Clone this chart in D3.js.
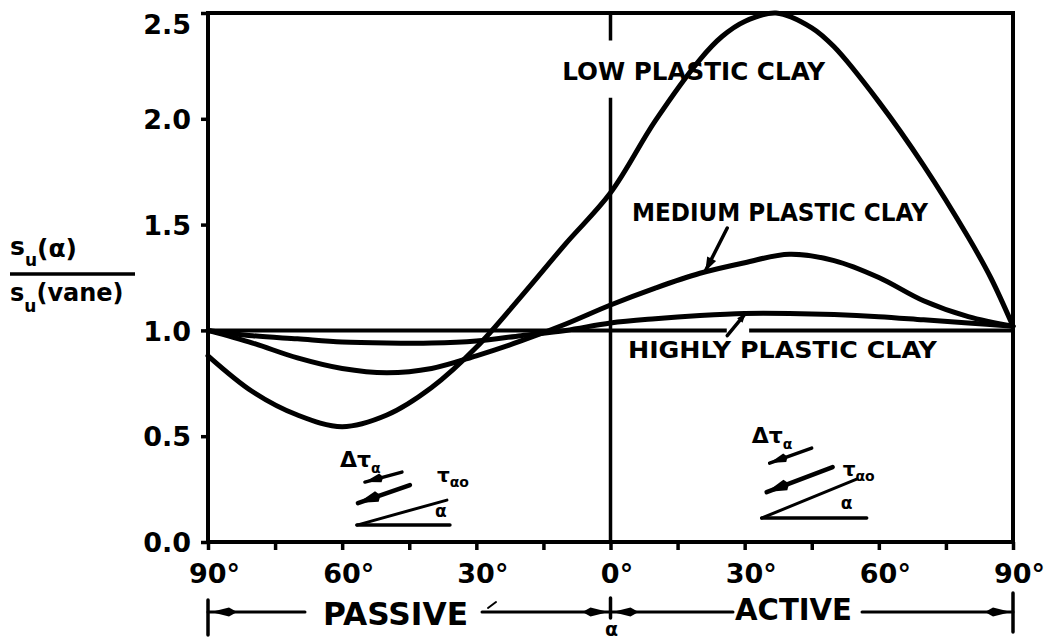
<!DOCTYPE html>
<html>
<head>
<meta charset="utf-8">
<script src="https://cdn.jsdelivr.net/npm/d3@7"></script>
<style>
  body { margin: 0; background: #fff; }
  svg { display: block; }
  text { font-family: "DejaVu Sans", sans-serif; font-weight: bold; fill: #000; }
</style>
</head>
<body>
<svg></svg>
<script>
const width = 1051,
  height = 642;

// alpha in degrees: negative = passive side, positive = active side
const lowAlpha = [-90, -80, -70, -60, -50, -40, -30, -20, -10, 0, 10, 20, 25, 30, 37, 45, 50, 60, 70, 80, 85, 90];
const lowRatio = [0.88, 0.71, 0.60, 0.545, 0.60, 0.73, 0.92, 1.16, 1.41, 1.65, 1.99, 2.28, 2.39, 2.46, 2.5, 2.43, 2.34, 2.08, 1.78, 1.44, 1.25, 1.02];

const mediumAlpha = [-90, -80, -70, -60, -50, -40, -30, -20, -10, 0, 10, 20, 30, 40, 50, 60, 70, 80, 90];
const mediumRatio = [1.0, 0.94, 0.87, 0.82, 0.80, 0.82, 0.88, 0.95, 1.03, 1.12, 1.2, 1.27, 1.32, 1.36, 1.33, 1.25, 1.14, 1.065, 1.02];

const highAlpha = [-90, -80, -70, -60, -50, -40, -30, -20, -10, 0, 10, 20, 30, 40, 50, 60, 70, 80, 90];
const highRatio = [1.0, 0.975, 0.96, 0.945, 0.94, 0.94, 0.95, 0.975, 1.0, 1.035, 1.055, 1.07, 1.08, 1.08, 1.075, 1.065, 1.05, 1.035, 1.02];

const yTicks = [0, 0.5, 1.0, 1.5, 2.0, 2.5];
const xTicks = d3.range(-90, 91, 15);

const curveLabels = ["LOW PLASTIC CLAY", "MEDIUM PLASTIC CLAY", "HIGHLY PLASTIC CLAY"];

const svg = d3.select("svg")
  .attr("width", width)
  .attr("height", height);

const x = d3.scaleLinear().domain([-90, 90]).range([208, 1013]);
const y = d3.scaleLinear().domain([0, 2.5]).range([542, 13]);

// axes
const yAxis = d3.axisLeft(y)
  .tickValues(yTicks)
  .tickFormat(d3.format(".1f"))
  .tickSize(7)
  .tickSizeOuter(0)
  .tickPadding(10);

const xAxis = d3.axisBottom(x)
  .tickValues(xTicks)
  .tickFormat(d => d % 30 === 0 ? Math.abs(d) + "°" : "")
  .tickSize(8)
  .tickSizeOuter(0)
  .tickPadding(14);

const gy = svg.append("g")
  .attr("transform", "translate(" + x(-90) + ",0)")
  .call(yAxis);
gy.select(".domain").remove();
gy.selectAll("line").attr("stroke", "#000").attr("stroke-width", 3.5);
gy.selectAll("text")
  .style("font-size", "27px")
  .attr("dy", d => d === 2.5 ? "0.75em" : "0.36em"); // top label sits below its tick

const gx = svg.append("g")
  .attr("transform", "translate(0," + y(0) + ")")
  .call(xAxis);
gx.select(".domain").remove();
gx.selectAll("line").attr("stroke", "#000").attr("stroke-width", 3.5);
gx.selectAll("text")
  .style("font-size", "27px")
  .attr("dx", "6px");

// frame
svg.append("rect")
  .attr("x", x(-90))
  .attr("y", y(2.5))
  .attr("width", x(90) - x(-90))
  .attr("height", y(0) - y(2.5))
  .attr("fill", "none")
  .attr("stroke", "#000")
  .attr("stroke-width", 4);

// reference line at ratio 1.0, broken where the HIGHLY label pointer passes
const refGap = [26, 31];
[[-90, refGap[0]], [refGap[1], 90]].forEach(s => {
  svg.append("line")
    .attr("x1", x(s[0])).attr("x2", x(s[1]))
    .attr("y1", y(1)).attr("y2", y(1))
    .attr("stroke", "#000").attr("stroke-width", 4);
});

// vertical line at alpha = 0, broken behind the LOW label
const zeroGap = [2.10, 2.37];
[[0, zeroGap[0]], [zeroGap[1], 2.5]].forEach(s => {
  svg.append("line")
    .attr("x1", x(0)).attr("x2", x(0))
    .attr("y1", y(s[0])).attr("y2", y(s[1]))
    .attr("stroke", "#000").attr("stroke-width", 3.5);
});

// curves
const line = d3.line()
  .x(d => x(d[0]))
  .y(d => y(d[1]))
  .curve(d3.curveCatmullRom.alpha(0.5));

[[lowAlpha, lowRatio], [mediumAlpha, mediumRatio], [highAlpha, highRatio]].forEach(s => {
  svg.append("path")
    .datum(s[0].map((a, i) => [a, s[1][i]]))
    .attr("d", line)
    .attr("fill", "none")
    .attr("stroke", "#000")
    .attr("stroke-width", 5)
    .attr("stroke-linejoin", "round")
    .attr("stroke-linecap", "round");
});

// filled arrow head, tip at `tip`, pointing away from `from`; tail > 0 gives a spindle shape
function head(g, tip, from, len, half, tail) {
  const dx = tip[0] - from[0], dy = tip[1] - from[1], L = Math.hypot(dx, dy);
  const ux = dx / L, uy = dy / L;
  const bx = tip[0] - ux * len, by = tip[1] - uy * len;
  const tx = bx - ux * tail, ty = by - uy * tail;
  g.append("path")
    .attr("d", "M" + tip + "L" + (bx - uy * half) + "," + (by + ux * half) +
      "L" + tx + "," + ty + "L" + (bx + uy * half) + "," + (by - ux * half) + "Z")
    .attr("fill", "#000");
}

function seg(g, a, b, w) {
  g.append("line")
    .attr("x1", a[0]).attr("y1", a[1])
    .attr("x2", b[0]).attr("y2", b[1])
    .attr("stroke", "#000")
    .attr("stroke-width", w)
    .attr("stroke-linecap", "round");
}

// curve labels
const labelPos = [[-10.8, 2.185, 263, 24], [4.8, 1.515, 296, 24], [3.9, 0.87, 309, 23]];
curveLabels.forEach((t, i) => {
  const p = labelPos[i];
  svg.append("text")
    .attr("x", x(p[0]))
    .attr("y", y(p[1]))
    .attr("textLength", p[2])
    .attr("lengthAdjust", "spacingAndGlyphs")
    .style("font-size", p[3] + "px")
    .text(t);
});

const ann = svg.append("g");

// pointer from MEDIUM label to its curve
{
  const a = [x(26.1), y(1.484)], b = [x(21.2), y(1.28)];
  seg(ann, a, b, 3.5);
  head(ann, b, a, 14, 5, 0);
}
// pointer from HIGHLY label to its curve
{
  const a = [x(26.1), y(0.975)], b = [x(30.2), y(1.08)];
  seg(ann, a, b, 3.5);
  head(ann, b, a, 9, 3.5, 0);
}

// stress element sketches
const insets = [
  { base: [-56.7, 0.08], baseLen: 93, plane: [90, -25], long: [[53, -40], [1, -22]], short: [[45, -53], [8, -43]],
    dt: [-17, -58], tau: [80, -43], alpha: [78, -8] },
  { base: [33.8, 0.113], baseLen: 105, plane: [95, -39], long: [[71, -51], [5, -26]], short: [[50, -70], [8, -55]],
    dt: [-10, -75], tau: [81, -42], alpha: [79, -9] }
];

insets.forEach(c => {
  const ox = x(c.base[0]), oy = y(c.base[1]);
  const g = svg.append("g").attr("transform", "translate(" + ox + "," + oy + ")");
  seg(g, [0, 0], [c.baseLen, 0], 3.5);
  seg(g, [0, 0], c.plane, 3);
  seg(g, c.long[0], c.long[1], 4.5);
  head(g, c.long[1], c.long[0], 20, 5.5, 4);
  seg(g, c.short[0], c.short[1], 3.5);
  head(g, c.short[1], c.short[0], 16, 4.5, 3);

  const t1 = g.append("text").attr("x", c.dt[0]).attr("y", c.dt[1]).style("font-size", "22px");
  t1.append("tspan").text("Δτ");
  t1.append("tspan").attr("dy", 6).style("font-size", "14px").text("α");

  const t2 = g.append("text").attr("x", c.tau[0]).attr("y", c.tau[1]).style("font-size", "20px");
  t2.append("tspan").text("τ");
  t2.append("tspan").attr("dy", 5).style("font-size", "14px").text("αo");

  g.append("text").attr("x", c.alpha[0]).attr("y", c.alpha[1]).style("font-size", "17px").text("α");
});

// y axis title as a fraction
const yt = svg.append("g");
const num = yt.append("text").attr("x", 10).attr("y", 255).style("font-size", "25px");
num.append("tspan").text("s");
num.append("tspan").attr("dy", 11).style("font-size", "17px").text("u");
num.append("tspan").attr("dy", -9).text("(α)");
yt.append("line")
  .attr("x1", 10).attr("x2", 135)
  .attr("y1", 274).attr("y2", 274)
  .attr("stroke", "#000").attr("stroke-width", 3.5);
const den = yt.append("text").attr("x", 10).attr("y", 301).style("font-size", "24px");
den.append("tspan").text("s");
den.append("tspan").attr("dy", 11).style("font-size", "17px").text("u");
den.append("tspan").attr("dy", -11).text("(vane)");

// PASSIVE / ACTIVE ranges under the axis
const rowY = y(0) + 70;
const bot = svg.append("g");
seg(bot, [x(-90), rowY - 12], [x(-90), rowY + 23], 3.5);
seg(bot, [x(0), rowY - 14], [x(0), rowY + 6], 3.5);
seg(bot, [x(90), rowY - 19], [x(90), rowY + 20], 3.5);

seg(bot, [x(-90), rowY], [305, rowY], 3);
head(bot, [x(-90) + 3, rowY], [305, rowY], 18, 4.5, 8);
seg(bot, [482, rowY], [x(0), rowY], 3);
head(bot, [x(0) - 2, rowY], [482, rowY], 18, 4.5, 8);
seg(bot, [x(0), rowY], [733, rowY], 3);
head(bot, [x(0) + 2, rowY], [733, rowY], 18, 4.5, 8);
seg(bot, [862, rowY], [x(90), rowY], 3);
head(bot, [x(90) - 2, rowY], [862, rowY], 18, 4.5, 8);
seg(bot, [488, rowY - 4], [496, rowY - 10], 2);

bot.append("text")
  .attr("x", 323).attr("y", rowY + 13)
  .attr("textLength", 145).attr("lengthAdjust", "spacingAndGlyphs")
  .style("font-size", "32px")
  .text("PASSIVE");
bot.append("text")
  .attr("x", 735).attr("y", rowY + 8)
  .attr("textLength", 117).attr("lengthAdjust", "spacingAndGlyphs")
  .style("font-size", "31px")
  .text("ACTIVE");
bot.append("text")
  .attr("x", x(0) + 1).attr("y", rowY + 24)
  .attr("text-anchor", "middle")
  .style("font-size", "19px")
  .text("α");
</script>
</body>
</html>
